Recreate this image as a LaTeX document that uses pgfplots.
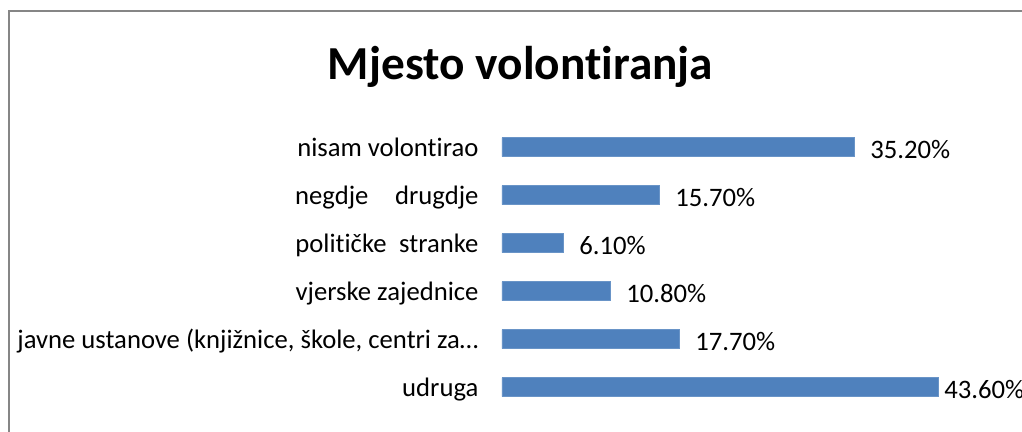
\documentclass[border=0pt]{standalone}
\usepackage{pgfplots}
\pgfplotsset{compat=1.18}
\usepackage{pgfplotstable}
\usepackage{fontspec}
\setmainfont{Carlito}[Ligatures={NoCommon}]
\definecolor{barblue}{HTML}{4F81BD}
\definecolor{framegray}{RGB}{134,134,134}
\pgfplotstableread{
x y shift
43.6 0 4.5
17.7 1 12
10.8 2 12
6.1 3 12
15.7 4 12
35.2 5 12
}\datatab
\begin{document}
\begin{tikzpicture}
\path[use as bounding box] (0,0) rectangle (766.5pt,-324pt);
\clip (0,0) rectangle (766.5pt,-324pt);
\draw[framegray, line width=1.5pt] (6.4pt,-330pt) -- (6.4pt,-8.25pt) -- (770pt,-8.25pt);
\node[font=\fontsize{35.5}{40}\selectfont\bfseries, anchor=base, inner sep=0pt] at (390.4pt,-59.25pt) {Mjesto volontiranja};
\begin{axis}[
  at={(376.5pt,-308.25pt)}, anchor=south west,
  width=327pt, height=216pt, scale only axis,
  xmin=0, xmax=43.6, ymin=-0.5, ymax=5.5,
  clip=false,
  xbar, bar width=14.25pt,
  axis line style={draw=none},
  xtick=\empty,
  ytick={0,1,2,3,4,5},
  yticklabels={udruga,{javne ustanove (knjižnice, škole, centri za…},{vjerske zajednice\hspace{4.5pt}},{političke\hspace{9.5pt}stranke},{negdje\hspace{20pt}drugdje},{nisam volontirao}},
  major tick length=0pt,
  yticklabel style={font=\fontsize{20}{24}\selectfont, anchor=east, inner sep=0pt, text height=13.5pt, text depth=0pt, xshift=-17.5pt},
  visualization depends on={\thisrow{shift}\as\myshift},
  point meta=x,
  nodes near coords={\pgfmathprintnumber[fixed,fixed zerofill,precision=2,assume math mode=true]{\pgfplotspointmeta}\%},
  nodes near coords align={horizontal},
  every node near coord/.append style={font=\fontsize{20}{24}\selectfont, anchor=west, inner sep=0pt, xshift=\myshift pt, yshift=-1.8pt, text=black},
]
\addplot[fill=barblue, draw=barblue!85!white, line width=0.4pt] table[x=x,y=y] {\datatab};
\end{axis}
\end{tikzpicture}
\end{document}
